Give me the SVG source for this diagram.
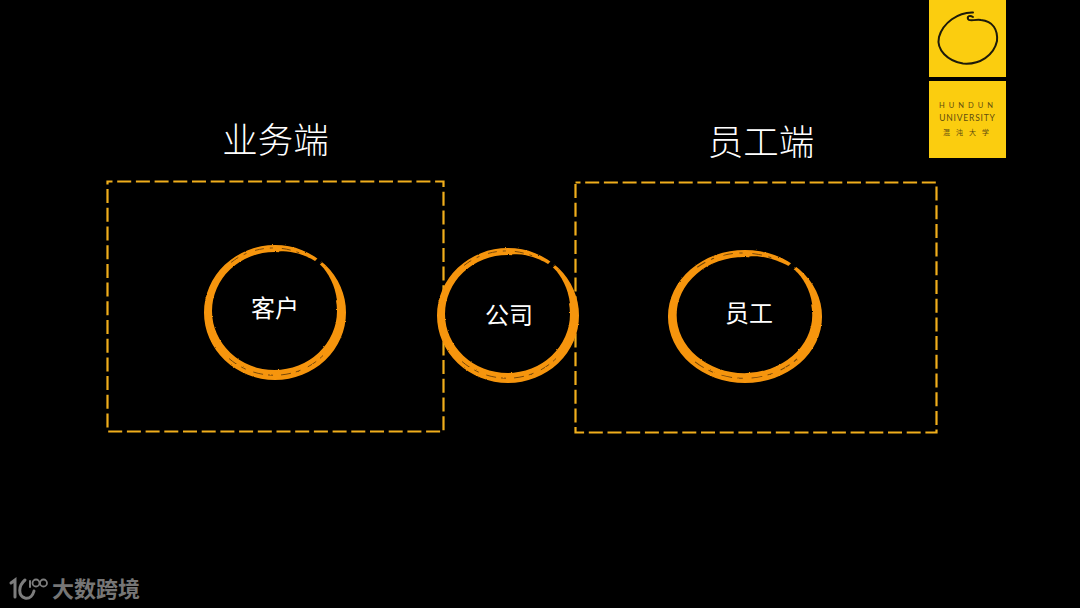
<svg xmlns="http://www.w3.org/2000/svg" width="1080" height="608" viewBox="0 0 1080 608">
<style>
.cjk{font-family:"Noto Sans CJK SC","Liberation Sans",sans-serif;fill:#fff;text-anchor:middle}
.title{font-size:35.500px;font-weight:300}
.label{font-size:24px;font-weight:400}
.box{fill:none;stroke:#f0ae1c;stroke-width:2.200;stroke-dasharray:14 4.700;stroke-dashoffset:9}
.logo{fill:#fbcd0f}
.en{font-family:"Lato","Liberation Sans",sans-serif;fill:#5e4c10;text-anchor:middle}
.wm{font-family:"Noto Sans CJK SC","Liberation Sans",sans-serif;font-weight:700;font-size:22px;fill:#767676}
.wml{fill:none;stroke:#7d7d7d;stroke-linecap:round}
</style>
<defs>
<filter id="rough" x="-10%" y="-10%" width="120%" height="120%">
<feTurbulence type="fractalNoise" baseFrequency="0.6" numOctaves="2" seed="4" result="n"/>
<feDisplacementMap in="SourceGraphic" in2="n" scale="1.800" xChannelSelector="R" yChannelSelector="G"/>
<feGaussianBlur stdDeviation="0.450"/>
</filter>
<g id="ring">
<g filter="url(#rough)">
<path fill="#f6950e" fill-rule="evenodd" d="M-71 0A71 67.500 0 1 1 71 0A71 67.500 0 1 1-71 0ZM-63 -1.500A62.500 59 0 1 0 62 -1.500A62.500 59 0 1 0-63 -1.500Z"/>
<path fill="#000" d="M4 -61C20 -63 40 -53 46 -47C53 -40 60 -28 62 -12L40 -20L4 -50Z"/>
<path fill="none" stroke="#000" stroke-width="6" d="M40 -47L52 -60"/>
<path fill="none" stroke="#7a4a06" stroke-width="1" stroke-dasharray="9 6 3 9" d="M-44 -50A66 62 0 0 1 28 -58"/>
<path fill="none" stroke="#7a4a06" stroke-width="1" stroke-dasharray="10 5 5 8" d="M-46 46A66 61 0 0 0 48 43"/>
</g>
</g>
</defs>
<rect width="1080" height="608" fill="#000"/>
<g id="connectors"></g>
<g id="zone-business">
<rect class="box" x="107.500" y="181.500" width="336" height="250"/>
<text class="cjk title" x="275.500" y="153">业务端</text>
</g>
<g id="zone-staff">
<rect class="box" x="575.500" y="182.500" width="361" height="250"/>
<text class="cjk title" x="761" y="155">员工端</text>
</g>
<g id="node-customer">
<use href="#ring" transform="translate(275 312.500)"/>
<text class="cjk label" x="275" y="317">客户</text>
</g>
<g id="node-company">
<use href="#ring" transform="translate(508 315.500)"/>
<text class="cjk label" x="509" y="324">公司</text>
</g>
<g id="node-staff">
<use href="#ring" transform="translate(745 316.500) scale(1.085 .985)"/>
<text class="cjk label" x="749" y="322">员工</text>
</g>
<g id="logo">
<rect class="logo" x="929" y="0" width="77" height="77"/>
<rect class="logo" x="929" y="81" width="77" height="77"/>
<path fill="none" stroke="#1d1a0a" stroke-width="2" stroke-linecap="round" d="M973 12.500C958 12 943 23 939 37C936 50 948 61 963 63.500C980 65 994 55 997 41C998 30 993 21 981 20C975 19 969 22 968 19C967 16 970 15 973 17"/>
<text class="en" x="968" y="108" font-size="7.500" letter-spacing="4">HUNDUN</text>
<text class="en" x="967.500" y="121" font-size="8.500" letter-spacing=".8">UNIVERSITY</text>
<text class="en" x="969" y="135" font-size="7" letter-spacing="6" style="font-family:'Noto Sans CJK SC',sans-serif">混沌大学</text>
</g>
<g id="watermark">
<path class="wml" style="stroke-width:3" d="M11 583L15 580V597"/>
<path class="wml" style="stroke-width:3" d="M25 580C18 586 18 596 25 598C30 599 33 595 34 591"/>
<path class="wml" style="stroke-width:2" d="M30 581V587"/>
<circle class="wml" style="stroke-width:1.800" cx="36" cy="583" r="3.500"/>
<circle class="wml" style="stroke-width:1.800" cx="43.500" cy="583" r="3.500"/>
<text class="wm" x="52" y="597">大数跨境</text>
</g>
</svg>
